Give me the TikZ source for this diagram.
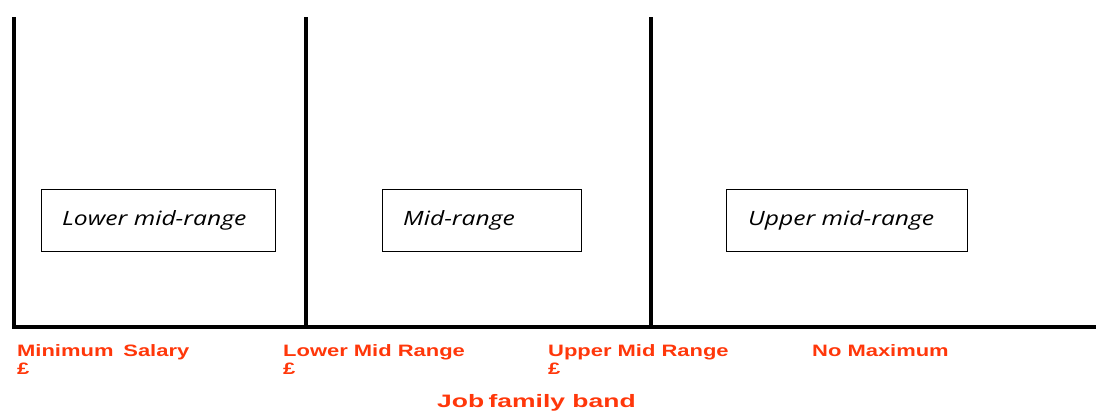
\documentclass[tikz,border=0pt]{standalone}
\usepackage{fontspec}
\newfontfamily\boxfont{Open Sans}
\newfontfamily\labfont{Liberation Sans}
\definecolor{labred}{RGB}{255,55,10}
\newcommand{\hs}[2][1.25]{\scalebox{#1}[1]{#2}}
\begin{document}
\begin{tikzpicture}[x=1pt,y=-1pt,
  axis/.style={line width=3.6pt,black},
  rangebox/.style={draw,line width=1.3pt,minimum height=62pt,inner sep=0pt,anchor=north west},
  boxtext/.style={anchor=base west,inner sep=0pt,font=\boxfont\itshape\fontsize{19.7}{22}\selectfont},
  lab/.style={anchor=base west,inner sep=0pt,text=labred,font=\labfont\bfseries\fontsize{16.5}{18}\selectfont},
  title/.style={anchor=base west,inner sep=0pt,text=labred,font=\labfont\bfseries\fontsize{18}{20}\selectfont}]
\useasboundingbox (0,0) rectangle (1096,410);
% axis lines
\coordinate (v1t) at (14,17);
\coordinate (v1b) at (14,328.8);
\coordinate (v2t) at (306,17);
\coordinate (v2b) at (306,327);
\coordinate (v3t) at (651,17);
\coordinate (v3b) at (651,327);
\coordinate (hl) at (12.2,327);
\coordinate (hr) at (1096,327);
\draw[axis] (v1t) -- (v1b);
\draw[axis] (v2t) -- (v2b);
\draw[axis] (v3t) -- (v3b);
\draw[axis] (hl) -- (hr);
% boxes
\node[rangebox,minimum width=234pt] (b1) at (41,189) {};
\node[rangebox,minimum width=199pt] (b2) at (382,189) {};
\node[rangebox,minimum width=241pt] (b3) at (726,189) {};
\node[boxtext] (t1) at (62,225) {\hs{Lower mid-range}};
\node[boxtext] (t2) at (403,225) {\hs{Mid-range}};
\node[boxtext] (t3) at (748,225) {\hs{Upper mid-range}};
% labels
\node[lab] (l1) at (17,356) {\hs[1.33]{Minimum\hspace{0.45em}Salary}};
\node[lab] (p1) at (17,374) {\hs[1.33]{£}};
\node[lab] (l2) at (283,356) {\hs[1.33]{Lower Mid Range}};
\node[lab] (p2) at (283,374) {\hs[1.33]{£}};
\node[lab] (l3) at (548,356) {\hs[1.33]{Upper Mid Range}};
\node[lab] (p3) at (548,374) {\hs[1.33]{£}};
\node[lab] (l4) at (812,356) {\hs[1.33]{No Maximum}};
\node[title] (jt) at (437,407.5) {\hs[1.47]{Job\hspace{-2pt} family band}};
\end{tikzpicture}
\end{document}
